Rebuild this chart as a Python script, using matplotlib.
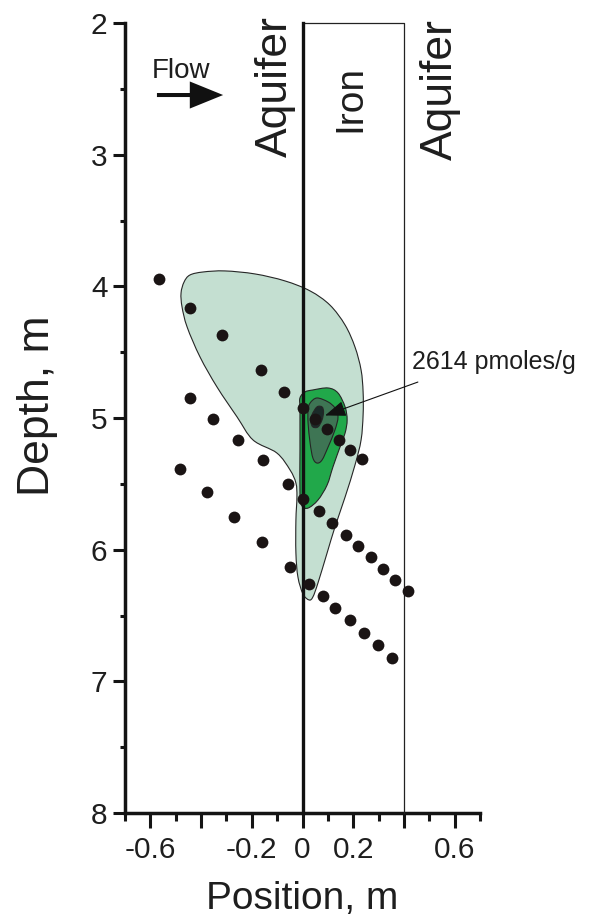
import numpy as np
import matplotlib
matplotlib.use("Agg")
import matplotlib.pyplot as plt
from matplotlib.path import Path
from matplotlib.patches import PathPatch, FancyArrowPatch

plt.rcParams['font.family'] = ['Liberation Sans', 'DejaVu Sans']

# ---------------- data (position m, depth m) ----------------
# sampling transects (black dots)
transect1_x = [-0.565, -0.442, -0.319, -0.162, -0.072, 0.0, 0.049, 0.098, 0.143, 0.187, 0.233]
transect1_d = [3.944, 4.162, 4.372, 4.635, 4.80, 4.926, 5.01, 5.086, 5.17, 5.245, 5.314]
transect2_x = [-0.442, -0.354, -0.253, -0.157, -0.058, 0.003, 0.066, 0.116, 0.170, 0.219, 0.270, 0.319, 0.366, 0.417]
transect2_d = [4.848, 5.005, 5.17, 5.32, 5.50, 5.618, 5.71, 5.80, 5.89, 5.97, 6.058, 6.147, 6.23, 6.314]
transect3_x = [-0.482, -0.375, -0.269, -0.159, -0.049, 0.026, 0.080, 0.129, 0.186, 0.242, 0.296, 0.352]
transect3_d = [5.385, 5.564, 5.752, 5.942, 6.13, 6.258, 6.35, 6.443, 6.536, 6.63, 6.724, 6.825]

# concentration contour outlines (lowest to highest level)
contour1_x = [-0.392, -0.306, -0.187, -0.069, 0.030, 0.108, 0.168, 0.207, 0.231, 0.239, 0.239, 0.231,
              0.207, 0.168, 0.128, 0.097, 0.061, 0.041, 0.026, 0.002, -0.018, -0.026, -0.026, -0.022,
              -0.026, -0.049, -0.101, -0.195, -0.258, -0.337, -0.404, -0.455, -0.475, -0.479, -0.467, -0.444]
contour1_d = [3.891, 3.883, 3.906, 3.959, 4.035, 4.142, 4.294, 4.461, 4.635, 4.802, 4.977, 5.167,
              5.357, 5.600, 5.828, 6.025, 6.253, 6.359, 6.382, 6.337, 6.208, 6.025, 5.775, 5.600,
              5.494, 5.395, 5.266, 5.167, 4.992, 4.765, 4.537, 4.309, 4.157, 4.051, 3.967, 3.914]
contour2_x = [-0.010, 0.010, 0.041, 0.101, 0.140, 0.168, 0.176, 0.168, 0.148, 0.120, 0.097, 0.061,
              0.022, -0.002, -0.010, -0.010, -0.010]
contour2_d = [4.848, 4.802, 4.787, 4.772, 4.810, 4.916, 5.015, 5.114, 5.220, 5.372, 5.509, 5.623,
              5.684, 5.668, 5.585, 5.243, 4.939]
contour3_x = [0.022, 0.030, 0.057, 0.101, 0.128, 0.140, 0.128, 0.101, 0.077, 0.057, 0.041, 0.030, 0.022]
contour3_d = [4.939, 4.886, 4.848, 4.878, 4.924, 4.992, 5.091, 5.220, 5.319, 5.342, 5.304, 5.190, 5.038]
contour4_x = [0.037, 0.057, 0.077, 0.083, 0.077, 0.061, 0.041, 0.033]
contour4_d = [4.977, 4.916, 4.916, 4.954, 5.015, 5.068, 5.068, 5.030]
contour_colors = ['#c4dfd1', '#21a84a', '#3e7554', '#1b2a28']

peak_label = '2614 pmoles/g'
peak_x, peak_d = 0.089, 4.981
iron_left, iron_right = 0.0, 0.4

x_major = [-0.6, -0.4, -0.2, 0.0, 0.2, 0.4, 0.6]
x_major_labels = ['-0.6', '', '-0.2', '0', '0.2', '', '0.6']
x_minor = [-0.7, -0.5, -0.3, -0.1, 0.1, 0.3, 0.5, 0.7]
y_major = [2, 3, 4, 5, 6, 7, 8]
y_minor = [2.5, 3.5, 4.5, 5.5, 6.5, 7.5]


def smooth_closed(xs, ys):
    P = np.column_stack([xs, ys])
    n = len(P)
    verts = [P[0]]
    codes = [Path.MOVETO]
    for i in range(n):
        p0, p1, p2, p3 = P[i - 1], P[i], P[(i + 1) % n], P[(i + 2) % n]
        verts += [p1 + (p2 - p0) / 6.0, p2 - (p3 - p1) / 6.0, p2]
        codes += [Path.CURVE4] * 3
    verts.append(P[0])
    codes.append(Path.CLOSEPOLY)
    return Path(np.array(verts), codes)


fig = plt.figure(figsize=(5.9, 9.19), dpi=100)
ax = fig.add_axes([125 / 590, 1 - 813 / 919, 355 / 590, 790 / 919])
ax.set_xlim(-0.7, 0.7)
ax.set_ylim(8, 2)

text_col = '#1e1e1e'

# contours
for cx, cd, col in zip([contour1_x, contour2_x, contour3_x, contour4_x],
                       [contour1_d, contour2_d, contour3_d, contour4_d], contour_colors):
    ax.add_patch(PathPatch(smooth_closed(cx, cd), facecolor=col, edgecolor='#262626',
                           lw=0.8, zorder=2))

# iron wall
ax.plot([iron_left, iron_right, iron_right], [2, 2, 8], color='#222222', lw=0.9,
        clip_on=False, zorder=3)
ax.plot([iron_left, iron_left], [2, 8], color='#111111', lw=2.4, clip_on=False, zorder=4)

# dots
for tx, td in [(transect1_x, transect1_d), (transect2_x, transect2_d), (transect3_x, transect3_d)]:
    ax.plot(tx, td, 'o', color='#1a1414', ms=8.5, mec='none', zorder=5, clip_on=False)

# peak annotation
ax.annotate('', xy=(peak_x, peak_d), xytext=(0.455, 4.727),
            arrowprops=dict(arrowstyle='-|>,head_length=0.8,head_width=0.3',
                            color='#111111', lw=0.8, mutation_scale=16,
                            shrinkA=0, shrinkB=0), zorder=6)
ax.text(0.431, 4.630, peak_label, fontsize=18, color=text_col, ha='left',
        va='baseline', clip_on=False)

# labels of zones
for xx, dd, s, fs in [(-0.062, 2.48, 'Aquifer', 32), (0.227, 2.577, 'Iron', 28),
                      (0.588, 2.508, 'Aquifer', 32)]:
    ax.text(xx, dd, s, rotation=90, rotation_mode='anchor', ha='center', va='baseline',
            fontsize=fs, color=text_col)

# flow arrow
ax.text(-0.595, 2.42, 'Flow', fontsize=20, color=text_col, ha='left', va='baseline')
ax.add_patch(FancyArrowPatch((-0.574, 2.547), (-0.313, 2.547),
                             arrowstyle='simple,head_length=2.4,head_width=1.95,tail_width=0.29',
                             mutation_scale=10, color='#111111', lw=0, shrinkA=0, shrinkB=0))

# axes styling
for s in ['top', 'right']:
    ax.spines[s].set_visible(False)
for s in ['left', 'bottom']:
    ax.spines[s].set_linewidth(2.5)
    ax.spines[s].set_color('#141414')

ax.set_xticks(x_major)
ax.set_xticklabels(x_major_labels)
ax.set_xticks(x_minor, minor=True)
ax.set_yticks(y_major)
ax.set_yticklabels([str(v) for v in y_major])
ax.set_yticks(y_minor, minor=True)
ax.tick_params(axis='x', which='major', direction='out', length=10.8, width=2.2, pad=6,
               labelsize=21.5, colors='#141414', labelcolor=text_col)
ax.tick_params(axis='x', which='minor', direction='out', length=5.8, width=2.2, colors='#141414')
ax.tick_params(axis='y', which='major', direction='out', length=8.6, width=2.2, pad=4,
               labelsize=21.5, colors='#141414', labelcolor=text_col)
ax.tick_params(axis='y', which='minor', direction='out', length=3.6, width=2.2, colors='#141414')

ax.set_xlabel('Position, m', fontsize=28, color=text_col)
ax.xaxis.set_label_coords(0.5, -0.086)
ax.set_ylabel('Depth, m', fontsize=32, color=text_col)
ax.yaxis.set_label_coords(-0.190, 0.515)

fig.savefig('out.png', dpi=100)
